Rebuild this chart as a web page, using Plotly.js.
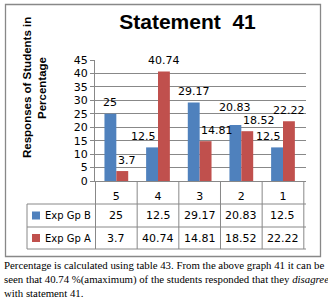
<!DOCTYPE html>
<html>
<head>
<meta charset="utf-8">
<script src="https://cdn.plot.ly/plotly-3.0.1.min.js"></script>
<style>html,body{margin:0;padding:0;background:#fff;}#chart{width:328px;height:302px;}</style>
</head>
<body>
<div id="chart"></div>
<script>
// ---- data ----
const categories = ['5', '4', '3', '2', '1'];
const seriesNames = ['Exp Gp B', 'Exp Gp A'];
const expGpB = [25, 12.5, 29.17, 20.83, 12.5];
const expGpA = [3.7, 40.74, 14.81, 18.52, 22.22];
const yTicks = [0, 5, 10, 15, 20, 25, 30, 35, 40, 45];
const chartTitle = 'Statement  41';
const yTitleLines = ['Responses of Students in', 'Percentage'];
const captionLines = [
  'Percentage is calculated using table 43. From the above graph 41 it can be',
  'seen that 40.74 %(amaximum) of the students responded that they <i>disagree</i>',
  'with statement 41.'
];

// ---- styling / layout ----
const W = 328, H = 302;
const L = 95, R = 306, T = 60, B = 181;
const PW = R - L, PH = B - T;
const YMAX = 45;
const px = v => (v - L) / PW;
const py = v => (B - v) / PH;
const colors = ['#4F81BD', '#C0504D'];
const lineCol = '#888888';
const smallFont = {family: 'DejaVu Sans', size: 11, color: '#000'};
const BARGAP = 0.43;

const seriesData = [expGpB, expGpA];
const traces = seriesData.map((vals, i) => ({
  type: 'bar', name: seriesNames[i], x: categories, y: vals,
  marker: {color: colors[i]}, hoverinfo: 'skip'
}));

const annotations = [];

// ---- bar value labels, nudged to avoid the neighbouring bar / label ----
const catW = PW / categories.length;
const barW = catW * (1 - BARGAP) / 2;
const labelW = s => s.replace(/\./g, '').length * 7 + (s.includes('.') ? 3.5 : 0);
const LH = 13, GAP = 3.5;
const valPx = v => v * PH / YMAX;   // bar height in px
categories.forEach((cat, c) => {
  const info = seriesData.map((vals, i) => {
    const s = String(vals[c]);
    const w = labelW(s);
    const dir = i === 0 ? -1 : 1;     // away from the neighbour bar
    const other = seriesData[1 - i][c];
    let xs = 0;
    if (valPx(other) > valPx(vals[c]) + GAP) xs = dir * (w / 2 - barW / 2 + 2);
    return {s, w, xs, bottom: valPx(vals[c]) + GAP, center: dir * barW / 2};
  });
  const [a, b] = info;
  const ax = a.center + a.xs, bx = b.center + b.xs;
  const hOverlap = Math.abs(ax - bx) < (a.w + b.w) / 2;
  if (hOverlap) {
    const hi = a.bottom >= b.bottom ? a : b, lo = hi === a ? b : a;
    if (hi.bottom < lo.bottom + LH) hi.bottom = lo.bottom + LH;
  }
  info.forEach((o, i) => {
    annotations.push({xref: 'x', yref: 'y', x: c, y: seriesData[i][c], text: o.s, showarrow: false,
      xanchor: 'center', yanchor: 'bottom', xshift: o.center + o.xs,
      yshift: o.bottom - valPx(seriesData[i][c]), font: smallFont, borderpad: 0});
  });
});

// ---- data table under the axis ----
const rowTop = 204, rowMid = 227, rowBot = 249, tableLeft = 27;
const rowCenters = [(rowTop + rowMid) / 2, (rowMid + rowBot) / 2];
seriesData.forEach((vals, r) => {
  vals.forEach((v, c) => {
    annotations.push({xref: 'x', yref: 'paper', x: c, y: py(rowCenters[r]),
      text: String(v), showarrow: false, font: smallFont, xanchor: 'center', yanchor: 'middle'});
  });
  annotations.push({xref: 'paper', yref: 'paper', x: px(43), y: py(rowCenters[r]),
    text: seriesNames[r], showarrow: false, font: {family: 'DejaVu Sans', size: 10, color: '#000'},
    xanchor: 'left', yanchor: 'middle'});
});
// y axis title (two lines, rotated)
yTitleLines.forEach((t, i) => {
  annotations.push({xref: 'paper', yref: 'paper', x: px(27 + 15 * i), y: py(88),
    text: t, textangle: -90, showarrow: false,
    font: {family: 'Liberation Sans', size: 11.5, weight: 'bold', color: '#000'}, xanchor: 'center', yanchor: 'middle'});
});
// caption
const capY = [265, 279, 292.5];
captionLines.forEach((t, i) => {
  annotations.push({xref: 'paper', yref: 'paper', x: px(2), y: py(capY[i]),
    text: t, showarrow: false, xanchor: 'left', yanchor: 'middle',
    font: {family: 'Liberation Serif', size: 10.8, color: '#000'}});
});

const shapes = [];
const hline = (x0, x1, y) => shapes.push({type: 'line', xref: 'paper', yref: 'paper',
  x0: px(x0), x1: px(x1), y0: py(y), y1: py(y), line: {color: lineCol, width: 1}});
const vlineData = (xv, y0, y1) => shapes.push({type: 'line', xref: 'x', yref: 'paper',
  x0: xv, x1: xv, y0: py(y0), y1: py(y1), line: {color: lineCol, width: 1}});
for (let k = 0; k <= categories.length; k++) vlineData(k - 0.5, B, rowBot);
hline(tableLeft, R, rowTop);
hline(tableLeft, R, rowMid);
hline(tableLeft, R, rowBot);
shapes.push({type: 'line', xref: 'paper', yref: 'paper', x0: px(tableLeft), x1: px(tableLeft),
  y0: py(rowTop), y1: py(rowBot), line: {color: lineCol, width: 1}});
// legend keys
rowCenters.forEach((c, i) => shapes.push({type: 'rect', xref: 'paper', yref: 'paper',
  x0: px(32), x1: px(40), y0: py(c - 4), y1: py(c + 4), fillcolor: colors[i], line: {width: 0}}));
// outer frame
shapes.push({type: 'rect', xref: 'paper', yref: 'paper', x0: px(5.5), x1: px(320.5),
  y0: py(256.5), y1: py(4.5), line: {color: lineCol, width: 1.3}, fillcolor: 'rgba(0,0,0,0)'});

const layout = {
  width: W, height: H,
  margin: {l: L, r: W - R, t: T, b: H - B, pad: 0},
  paper_bgcolor: '#fff', plot_bgcolor: '#fff',
  showlegend: false,
  barmode: 'group', bargap: BARGAP, bargroupgap: 0,
  title: {text: chartTitle, x: 187.5 / W, xanchor: 'center', y: 1 - 22 / H, yanchor: 'middle', yref: 'container',
    font: {family: 'Liberation Sans', size: 21, weight: 'bold', color: '#000'}},
  xaxis: {type: 'category', showline: true, linecolor: lineCol, linewidth: 1, showgrid: false,
    ticks: '', tickfont: smallFont, ticklabelstandoff: 5, fixedrange: true},
  yaxis: {range: [0, YMAX], tickvals: yTicks, ticktext: yTicks.map(String), showline: true, linecolor: lineCol,
    linewidth: 1, showgrid: true, gridcolor: lineCol, gridwidth: 1, zeroline: false,
    ticks: 'outside', ticklen: 4, tickcolor: lineCol, tickfont: smallFont, fixedrange: true},
  annotations: annotations, shapes: shapes
};

Plotly.newPlot('chart', traces, layout, {staticPlot: true, displayModeBar: false});
</script>
</body>
</html>
